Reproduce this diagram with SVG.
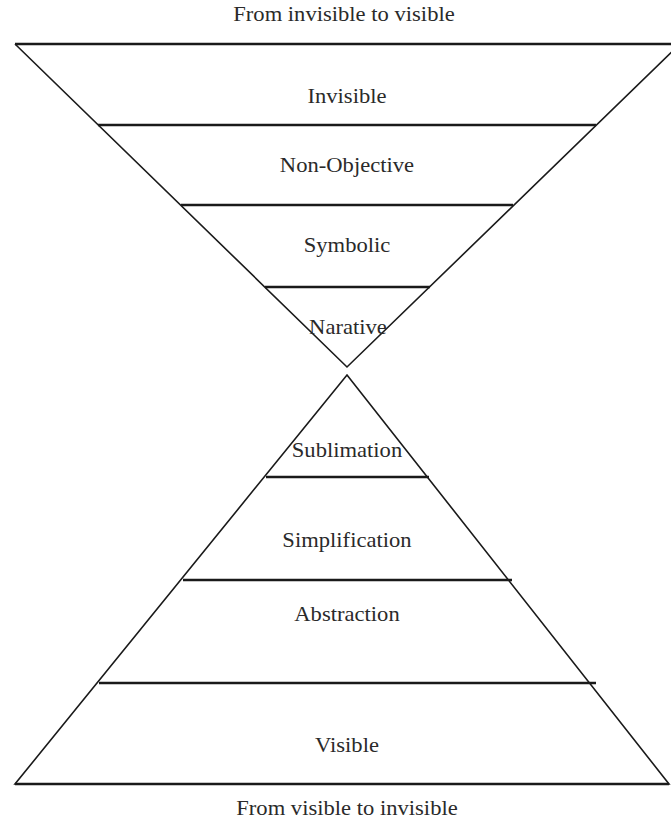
<svg xmlns="http://www.w3.org/2000/svg" width="671" height="823" viewBox="0 0 671 823">
<style>
.edge{fill:none;stroke:#1a1a1a;stroke-width:1.6;stroke-linejoin:miter}
.bar{stroke:#1a1a1a;stroke-width:2.6}
.lbl{font-family:"Liberation Serif","Times New Roman",serif;font-size:20px;fill:#2a2a2a;text-anchor:middle}
</style>
<rect width="671" height="823" fill="#fff"/>
<text class="lbl" x="344" y="21" transform="translate(344 0) scale(1.13 1) translate(-344 0)">From invisible to visible</text>
<g id="top-funnel">
<polyline class="edge" points="680,44 347,367 15,44"/>
<line class="bar" x1="15" y1="44" x2="671" y2="44"/>
</g>
<g id="invisible">
<line class="bar" x1="98" y1="125" x2="596" y2="125"/>
<text class="lbl" x="347" y="103" transform="translate(347 0) scale(1.13 1) translate(-347 0)">Invisible</text>
</g>
<g id="non-objective">
<line class="bar" x1="181" y1="205" x2="513" y2="205"/>
<text class="lbl" x="347" y="172" transform="translate(347 0) scale(1.13 1) translate(-347 0)">Non-Objective</text>
</g>
<g id="symbolic">
<line class="bar" x1="265" y1="287" x2="430" y2="287"/>
<text class="lbl" x="347" y="252" transform="translate(347 0) scale(1.13 1) translate(-347 0)">Symbolic</text>
</g>
<g id="narative">
<text class="lbl" x="348" y="334" transform="translate(348 0) scale(1.13 1) translate(-348 0)">Narative</text>
</g>
<g id="bottom-pyramid">
<polygon class="edge" points="347,375 669,784 15,784"/>
<line class="bar" x1="15" y1="784" x2="669" y2="784"/>
</g>
<g id="sublimation">
<line class="bar" x1="266" y1="477" x2="429" y2="477"/>
<text class="lbl" x="347" y="457" transform="translate(347 0) scale(1.13 1) translate(-347 0)">Sublimation</text>
</g>
<g id="simplification">
<line class="bar" x1="183" y1="580" x2="512" y2="580"/>
<text class="lbl" x="347" y="547" transform="translate(347 0) scale(1.13 1) translate(-347 0)">Simplification</text>
</g>
<g id="abstraction">
<line class="bar" x1="99" y1="683" x2="596" y2="683"/>
<text class="lbl" x="347" y="621" transform="translate(347 0) scale(1.13 1) translate(-347 0)">Abstraction</text>
</g>
<g id="visible">
<text class="lbl" x="347" y="752" transform="translate(347 0) scale(1.13 1) translate(-347 0)">Visible</text>
</g>
<text class="lbl" x="347" y="815" transform="translate(347 0) scale(1.13 1) translate(-347 0)">From visible to invisible</text>
<g id="connectors"></g>
</svg>
